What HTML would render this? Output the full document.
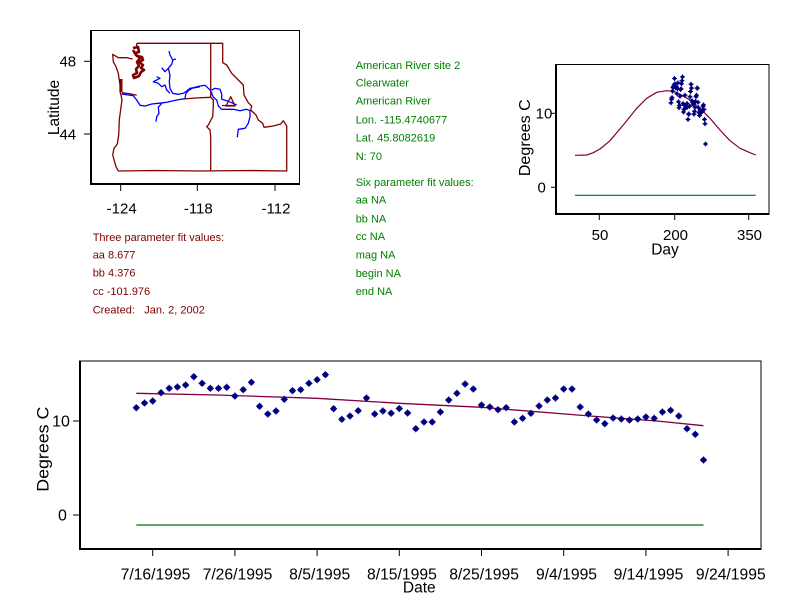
<!DOCTYPE html>
<html><head><meta charset="utf-8"><style>
html,body{margin:0;padding:0;background:#fff;}
svg{display:block;font-family:"Liberation Sans",Arial,sans-serif;}
</style></head><body>
<svg width="792" height="611" viewBox="0 0 792 611" xmlns="http://www.w3.org/2000/svg">
<defs>
<g id="mb"><circle r="2.8" fill="#000080"/><path d="M-3.5 0H3.5M0 -3.5V3.5" stroke="#000080" stroke-width="1.2"/></g>
<g id="ms"><circle r="1.7" fill="#000080"/><path d="M-2.5 0H2.5M0 -2.5V2.5" stroke="#000080" stroke-width="1"/></g>
</defs>
<rect width="792" height="611" fill="#fff"/>

<!-- ============ MAP ============ -->
<rect x="90.5" y="30.5" width="209" height="153.5" fill="none" stroke="#000" stroke-width="1"/>
<line x1="91" y1="30" x2="91" y2="185" stroke="#000" stroke-width="2"/>
<line x1="90" y1="184" x2="300" y2="184" stroke="#000" stroke-width="2"/>
<g stroke="#000" stroke-width="1">
<line x1="120.7" y1="185" x2="120.7" y2="191"/>
<line x1="197.3" y1="185" x2="197.3" y2="191"/>
<line x1="275" y1="185" x2="275" y2="191"/>
<line x1="84" y1="61.3" x2="90" y2="61.3"/>
<line x1="84" y1="134" x2="90" y2="134"/>
</g>
<g font-size="15" fill="#000" text-anchor="middle">
<text x="121.7" y="213.3">-124</text>
<text x="198.3" y="213.3">-118</text>
<text x="276" y="213.3">-112</text>
<text x="67.8" y="66.7">48</text>
<text x="67.8" y="139.4">44</text>
</g>
<text transform="translate(59,107.5) rotate(-90)" font-size="15.5" text-anchor="middle" fill="#000">Latitude</text>

<g fill="none" stroke="#800000" stroke-width="1.3" stroke-linejoin="round">
<path d="M136.7,43.3 L222.7,43.3 L222.7,62.7 L226.7,65 L231.7,73.3 L238.3,80 L243.3,85 L244,95 L248.3,102.7 L251.7,106 L250.7,110 L256,115 L258.3,120 L262.7,123.3 L264,127.3 L273.3,126 L280.7,124 L283.3,120.7 L286.7,126 L286.7,171 L250,170.5 L200,171 L155,170.5 L118.3,171 L116,166.7 L112.7,155 L114,148.3 L117.3,144 L118.7,135 L119.3,120 L120.7,109.3 L122,100 L120.7,94 L120,91.7 L120,85 L118.3,73.3 L116,66.7 L113.3,61.7 L112.7,54.3 L118.3,57.7 L126.7,57.7 L132.7,59"/>
<path d="M136.7,43.3 L136.7,48"/>
<path d="M210.7,43.3 L210.7,97.3"/>
<path d="M121.7,92.7 L130,93.8 L136.7,95.3"/>
<path d="M183.3,99 L195,98 L210.7,97.3 L213.3,100 L213.3,106.7 L212.7,116.7 L208.3,125 L206.7,126.7 L210,130 L210.7,136.7 L210.7,171"/>
<path d="M226,106 L230.7,96.7 L235,106 Z M222,105.5 L235,105.5"/>
</g>
<path d="M133,48 L138,47 L139,52 L135,53 L137,56 L142,57 L143,60 L139,62 L143,65 L141,68 L144,70 L141,72 L139,76 L134,78 L133,75 L137,73 L136,69 L139,66 L137,62 L140,58 L136,55 L133,50" fill="none" stroke="#800000" stroke-width="2.6" stroke-linejoin="round"/>
<path d="M121,79 L121,92" stroke="#800000" stroke-width="3"/>

<g fill="none" stroke="#0000ff" stroke-width="1.3" stroke-linejoin="round">
<path d="M121.7,94 L133.3,95.7 L136.7,100 L140,105.3 L145,106 L151.7,104 L158.3,103.3 L166.7,102.3 L176.7,100 L185,98.7 L185.7,94 L188.3,90.7 L193.3,87.7 L200,86 L205,85.3 L208.3,88.3 L210.7,90.7 L213.3,97.3 L216.7,100 L218.3,106 L221.7,109.3 L233.3,109.3 L240,110.7 L246.7,109.3 L250,110.7 L250,116.7 L248.3,123.3 L245,128.3 L238.3,129.3 L237.3,137.3"/>
<path d="M169,51 L170,55 L172.7,60 L176,59 M172.7,60 L171.7,64.3 L168.3,68.3 L165,71.7 L161.7,67.7 M168.3,68.3 L170,75 L169.3,81.7 L170,88.3 L172.7,93.3 L178.3,94.3 L183.3,93.3 L186.7,91 L190,88.3 L195,87.7 L200,86.7"/>
<path d="M156.7,76.7 L160,78.3 L153.3,81.7 L158.3,83.3 L161.7,86.7 L165,85 L166.7,90 L170,93.3"/>
<path d="M161.7,103.3 L158.3,107.3 L159,113.3 L156.7,116.7 L156,121.7"/>
<path d="M211.7,90 L215,88.3 L220,89.3 L221.7,94 L221.7,99.3 L226.7,100.7 L231.7,102.7 L236.7,105"/>
</g>

<!-- ============ TEXT BLOCKS ============ -->
<g font-size="11" fill="#800000">
<text x="92.7" y="241">Three parameter fit values:</text>
<text x="92.7" y="258.3">aa 8.677</text>
<text x="92.7" y="276.7">bb 4.376</text>
<text x="92.7" y="295">cc -101.976</text>
<text x="92.7" y="313.3">Created:</text>
<text x="144.3" y="313.3">Jan. 2, 2002</text>
</g>
<g font-size="11" fill="#008000">
<text x="355.7" y="69">American River site 2</text>
<text x="355.7" y="86.7">Clearwater</text>
<text x="355.7" y="104.7">American River</text>
<text x="355.7" y="123.7">Lon. -115.4740677</text>
<text x="355.7" y="141.7">Lat. 45.8082619</text>
<text x="355.7" y="160">N: 70</text>
<text x="355.7" y="186">Six parameter fit values:</text>
<text x="355.7" y="203.7">aa NA</text>
<text x="355.7" y="222.3">bb NA</text>
<text x="355.7" y="240">cc NA</text>
<text x="355.7" y="258.7">mag NA</text>
<text x="355.7" y="277">begin NA</text>
<text x="355.7" y="295">end NA</text>
</g>

<!-- ============ TOP RIGHT PLOT ============ -->
<rect x="556.5" y="64.5" width="212.5" height="149.5" fill="none" stroke="#000" stroke-width="1"/>
<line x1="556" y1="64" x2="556" y2="215" stroke="#000" stroke-width="2"/>
<line x1="555" y1="214" x2="769.5" y2="214" stroke="#000" stroke-width="2"/>
<g stroke="#000" stroke-width="1">
<line x1="599.3" y1="215" x2="599.3" y2="220"/>
<line x1="674.7" y1="215" x2="674.7" y2="220"/>
<line x1="748.7" y1="215" x2="748.7" y2="220"/>
<line x1="551" y1="113.3" x2="556" y2="113.3"/>
<line x1="551" y1="187.3" x2="556" y2="187.3"/>
</g>
<g font-size="15" fill="#000" text-anchor="middle">
<text x="600" y="240">50</text>
<text x="675.5" y="240">200</text>
<text x="749.5" y="240">350</text>
<text x="544" y="118.7">10</text>
<text x="541.7" y="192.7">0</text>
</g>
<text x="665" y="254.5" font-size="15.5" text-anchor="middle">Day</text>
<text transform="translate(530,137.7) rotate(-90)" font-size="16" text-anchor="middle" textLength="77" lengthAdjust="spacingAndGlyphs">Degrees C</text>

<line x1="575" y1="195.3" x2="755.7" y2="195.3" stroke="#0a6e0a" stroke-width="1.2"/>
<path d="M575,155.3 L586.7,155 L593.3,152.7 L600,149 L610,140.7 L623.3,125 L636.7,108.3 L646.7,98.3 L656.7,92.3 L666.7,90.7 L673.3,91.3 L680,94.3 L690,100 L700,108.3 L710,118.3 L720,130 L730,140.7 L740,148.3 L750,152.7 L755.7,155" fill="none" stroke="#800040" stroke-width="1.2" stroke-linejoin="round"/>

<g>
<use href="#ms" x="671" y="102.9"/><use href="#ms" x="671.5" y="99.2"/><use href="#ms" x="672" y="97.6"/><use href="#ms" x="672.5" y="91.1"/><use href="#ms" x="673" y="87.6"/>
<use href="#ms" x="673.5" y="86.6"/><use href="#ms" x="674" y="85"/><use href="#ms" x="674.5" y="78.5"/><use href="#ms" x="675" y="83.7"/><use href="#ms" x="675.5" y="87.6"/>
<use href="#ms" x="676" y="87.6"/><use href="#ms" x="676.5" y="86.8"/><use href="#ms" x="677" y="93.7"/><use href="#ms" x="677.5" y="88.7"/><use href="#ms" x="678" y="82.9"/>
<use href="#ms" x="678.5" y="101.8"/><use href="#ms" x="679" y="107.8"/><use href="#ms" x="679.5" y="105.5"/><use href="#ms" x="680" y="96.2"/><use href="#ms" x="680.5" y="89.5"/>
<use href="#ms" x="681" y="88.7"/><use href="#ms" x="681.5" y="83.7"/><use href="#ms" x="682" y="80.8"/><use href="#ms" x="682.5" y="76.9"/><use href="#ms" x="683" y="103.6"/>
<use href="#ms" x="683.5" y="112"/><use href="#ms" x="684" y="109.4"/><use href="#ms" x="684.5" y="105.2"/><use href="#ms" x="685" y="95.2"/><use href="#ms" x="685.5" y="107.8"/>
<use href="#ms" x="686" y="105.5"/><use href="#ms" x="686.5" y="107.2"/><use href="#ms" x="687" y="103.5"/><use href="#ms" x="687.5" y="107"/><use href="#ms" x="688" y="119.4"/>
<use href="#ms" x="688.5" y="114.1"/><use href="#ms" x="689" y="114.1"/><use href="#ms" x="689.5" y="106.2"/><use href="#ms" x="690" y="96.8"/><use href="#ms" x="690.5" y="91.5"/>
<use href="#ms" x="691" y="84.2"/><use href="#ms" x="691.5" y="88.1"/><use href="#ms" x="692" y="100.7"/><use href="#ms" x="692.5" y="102.3"/><use href="#ms" x="693" y="104.4"/>
<use href="#ms" x="693.5" y="102.9"/><use href="#ms" x="694" y="114.1"/><use href="#ms" x="694.5" y="111.2"/><use href="#ms" x="695" y="107.3"/><use href="#ms" x="695.5" y="101.5"/>
<use href="#ms" x="696" y="96.8"/><use href="#ms" x="696.5" y="95.2"/><use href="#ms" x="697" y="88.1"/><use href="#ms" x="697.5" y="88.1"/><use href="#ms" x="698" y="102.3"/>
<use href="#ms" x="698.5" y="107.8"/><use href="#ms" x="699" y="112.5"/><use href="#ms" x="699.5" y="115.5"/><use href="#ms" x="700" y="111"/><use href="#ms" x="700.5" y="111.8"/>
<use href="#ms" x="701" y="112.5"/><use href="#ms" x="701.5" y="111.8"/><use href="#ms" x="702" y="110.2"/><use href="#ms" x="702.5" y="111.2"/><use href="#ms" x="703" y="106.2"/>
<use href="#ms" x="703.5" y="104.9"/><use href="#ms" x="704" y="109.4"/><use href="#ms" x="704.5" y="119.4"/><use href="#ms" x="705" y="123.8"/><use href="#ms" x="705.5" y="144"/>
</g>

<!-- ============ BOTTOM PLOT ============ -->
<rect x="80.5" y="361" width="680.5" height="188" fill="none" stroke="#000" stroke-width="1"/>
<line x1="80" y1="360.5" x2="80" y2="550" stroke="#000" stroke-width="2"/>
<line x1="79" y1="549" x2="761.5" y2="549" stroke="#000" stroke-width="2"/>
<g stroke="#000" stroke-width="1">
<line x1="73" y1="421" x2="80" y2="421"/>
<line x1="73" y1="515" x2="80" y2="515"/>
<line x1="152.7" y1="550" x2="152.7" y2="556"/>
<line x1="234.9" y1="550" x2="234.9" y2="556"/>
<line x1="317.1" y1="550" x2="317.1" y2="556"/>
<line x1="399.3" y1="550" x2="399.3" y2="556"/>
<line x1="481.5" y1="550" x2="481.5" y2="556"/>
<line x1="563.7" y1="550" x2="563.7" y2="556"/>
<line x1="645.9" y1="550" x2="645.9" y2="556"/>
<line x1="728.1" y1="550" x2="728.1" y2="556"/>
</g>
<g font-size="16" fill="#000" text-anchor="middle">
<text x="61" y="426.7">10</text>
<text x="62.5" y="520.7">0</text>
</g>
<g font-size="15.7" fill="#000" text-anchor="middle">
<text x="155.5" y="579.3">7/16/1995</text>
<text x="237.5" y="579.3">7/26/1995</text>
<text x="319.7" y="579.3">8/5/1995</text>
<text x="401.9" y="579.3">8/15/1995</text>
<text x="484.1" y="579.3">8/25/1995</text>
<text x="566.5" y="579.3">9/4/1995</text>
<text x="648.5" y="579.3">9/14/1995</text>
<text x="730.8" y="579.3">9/24/1995</text>
</g>
<text x="419.3" y="592.5" font-size="15.5" text-anchor="middle">Date</text>
<text transform="translate(48.5,449.2) rotate(-90)" font-size="17" text-anchor="middle" textLength="85" lengthAdjust="spacingAndGlyphs">Degrees C</text>

<line x1="136.3" y1="525" x2="703.5" y2="525" stroke="#0a6e0a" stroke-width="1.2"/>
<path d="M136.3,393.3 L216.7,395 L316.7,398.3 L399.3,403.3 L481.7,407.3 L590,416 L656.7,421 L703.5,425.7" fill="none" stroke="#800040" stroke-width="1.3" stroke-linejoin="round"/>

<g>
<use href="#mb" x="136.3" y="407.7"/><use href="#mb" x="144.5" y="403"/><use href="#mb" x="152.7" y="401"/><use href="#mb" x="161" y="392.7"/><use href="#mb" x="169.2" y="388.3"/>
<use href="#mb" x="177.4" y="387"/><use href="#mb" x="185.6" y="385"/><use href="#mb" x="193.8" y="376.7"/><use href="#mb" x="202.1" y="383.3"/><use href="#mb" x="210.3" y="388.3"/>
<use href="#mb" x="218.5" y="388.3"/><use href="#mb" x="226.7" y="387.3"/><use href="#mb" x="234.9" y="396"/><use href="#mb" x="243.2" y="389.7"/><use href="#mb" x="251.4" y="382.3"/>
<use href="#mb" x="259.6" y="406.3"/><use href="#mb" x="267.8" y="414"/><use href="#mb" x="276" y="411"/><use href="#mb" x="284.3" y="399.3"/><use href="#mb" x="292.5" y="390.7"/>
<use href="#mb" x="300.7" y="389.7"/><use href="#mb" x="308.9" y="383.3"/><use href="#mb" x="317.1" y="379.7"/><use href="#mb" x="325.4" y="374.7"/><use href="#mb" x="333.6" y="408.7"/>
<use href="#mb" x="341.8" y="419.3"/><use href="#mb" x="350" y="416"/><use href="#mb" x="358.2" y="410.7"/><use href="#mb" x="366.5" y="398"/><use href="#mb" x="374.7" y="414"/>
<use href="#mb" x="382.9" y="411"/><use href="#mb" x="391.1" y="413.2"/><use href="#mb" x="399.3" y="408.5"/><use href="#mb" x="407.6" y="413"/><use href="#mb" x="415.8" y="428.7"/>
<use href="#mb" x="424" y="422"/><use href="#mb" x="432.2" y="422"/><use href="#mb" x="440.4" y="412"/><use href="#mb" x="448.7" y="400"/><use href="#mb" x="456.9" y="393.3"/>
<use href="#mb" x="465.1" y="384"/><use href="#mb" x="473.3" y="389"/><use href="#mb" x="481.5" y="405"/><use href="#mb" x="489.8" y="407"/><use href="#mb" x="498" y="409.7"/>
<use href="#mb" x="506.2" y="407.7"/><use href="#mb" x="514.4" y="422"/><use href="#mb" x="522.6" y="418.3"/><use href="#mb" x="530.9" y="413.3"/><use href="#mb" x="539.1" y="406"/>
<use href="#mb" x="547.3" y="400"/><use href="#mb" x="555.5" y="398"/><use href="#mb" x="563.7" y="389"/><use href="#mb" x="572" y="389"/><use href="#mb" x="580.2" y="407"/>
<use href="#mb" x="588.4" y="414"/><use href="#mb" x="596.6" y="420"/><use href="#mb" x="604.8" y="423.7"/><use href="#mb" x="613.1" y="418"/><use href="#mb" x="621.3" y="419"/>
<use href="#mb" x="629.5" y="420"/><use href="#mb" x="637.7" y="419"/><use href="#mb" x="645.9" y="417"/><use href="#mb" x="654.2" y="418.3"/><use href="#mb" x="662.4" y="412"/>
<use href="#mb" x="670.6" y="410.3"/><use href="#mb" x="678.8" y="416"/><use href="#mb" x="687" y="428.7"/><use href="#mb" x="695.3" y="434.3"/><use href="#mb" x="703.5" y="460"/>
</g>
</svg>
</body></html>
